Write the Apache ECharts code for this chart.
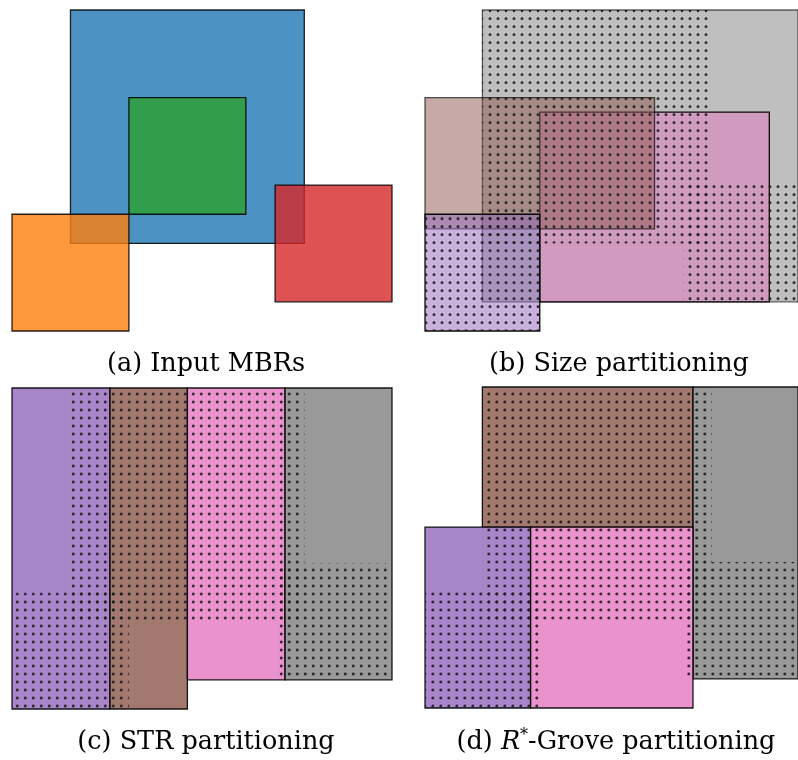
<!DOCTYPE html>
<html>
<head>
<meta charset="utf-8">
<script src="https://cdn.jsdelivr.net/npm/echarts@6/dist/echarts.min.js"></script>
<style>html,body{margin:0;padding:0;background:#fff;}#main{width:798px;height:760px;}</style>
</head>
<body>
<div id="main"></div>
<script>
// ---- Data (in data units; x 0..13, y 0..11) ----
// (a) input MBRs: blue, green, orange, red
const inputColors = ['#1f77b4', '#2ca02c', '#ff7f0e', '#d62728'];
const inputX0 = [2, 4, 0, 9];
const inputX1 = [10, 8, 4, 13];
const inputY0 = [3, 4, 0, 1];
const inputY1 = [11, 8, 4, 5];
// input MBRs whose area is shown dotted in (b)-(d): blue, orange, red
const dottedIdx = [0, 2, 3];

// (b) Size partitioning: grey, pink, brown, purple
const sizeColors = ['#7f7f7f', '#e377c2', '#8c564b', '#9467bd'];
const sizeX0 = [2, 4, 0, 0];
const sizeX1 = [13, 12, 8, 4];
const sizeY0 = [1, 1, 3.5, 0];
const sizeY1 = [11, 7.5, 8, 4];

// (c) STR partitioning: purple, brown, pink, grey
const strColors = ['#9467bd', '#8c564b', '#e377c2', '#7f7f7f'];
const strX0 = [0, 3.35, 6, 9.34];
const strX1 = [3.35, 6, 9.34, 13];
const strY0 = [0, 0, 1, 1];
const strY1 = [11, 11, 11, 11];

// (d) R*-Grove partitioning: brown, grey, purple, pink
const groveColors = ['#8c564b', '#7f7f7f', '#9467bd', '#e377c2'];
const groveX0 = [2, 9.34, 0, 3.68];
const groveX1 = [9.34, 13, 3.68, 9.34];
const groveY0 = [6.2, 1, 0, 0];
const groveY1 = [11, 11, 6.2, 6.2];

const captions = ['(a) Input MBRs', '(b) Size partitioning', '(c) STR partitioning', '(d) {it|R}{sup|*}-Grove partitioning'];

// ---- helpers ----
function hexA(hex, a) {
  const r = parseInt(hex.slice(1, 3), 16), g = parseInt(hex.slice(3, 5), 16), b = parseInt(hex.slice(5, 7), 16);
  return 'rgba(' + r + ',' + g + ',' + b + ',' + a + ')';
}
function makeTile(dx, dy) {
  const c = document.createElement('canvas');
  c.width = 8; c.height = 8;
  const ctx = c.getContext('2d');
  ctx.fillStyle = 'rgba(30,30,30,0.9)';
  for (let i = -1; i <= 1; i++) for (let j = -1; j <= 1; j++) {
    ctx.beginPath();
    ctx.arc(dx + i * 8, dy + j * 8, 1.45, 0, Math.PI * 2);
    ctx.fill();
  }
  return c;
}

const grids = [
  { left: 12, top: 10, width: 380, height: 321 },
  { left: 425, top: 10, width: 380, height: 321 },
  { left: 12, top: 388, width: 380, height: 321 },
  { left: 425, top: 387, width: 380, height: 321 }
];
const tiles = [null, makeTile(2, 2.7), makeTile(1.3, 2), makeTile(0.8, 2)];

function rectSeries(panel, x0, x1, y0, y1, colors, alpha, edge, z) {
  const data = x0.map((v, i) => [v, y0[i], x1[i], y1[i], i]);
  return {
    type: 'custom',
    xAxisIndex: panel, yAxisIndex: panel,
    z: z,
    animation: false,
    silent: true,
    clip: false,
    data: data,
    encode: { x: [0, 2], y: [1, 3] },
    renderItem: function (params, api) {
      const a = api.coord([api.value(0), api.value(3)]);
      const b = api.coord([api.value(2), api.value(1)]);
      const idx = api.value(4);
      return {
        type: 'rect',
        shape: { x: a[0], y: a[1], width: b[0] - a[0], height: b[1] - a[1] },
        style: {
          fill: hexA(colors[idx], alpha),
          stroke: Array.isArray(edge) ? edge[idx] : edge,
          lineWidth: 1.3
        }
      };
    }
  };
}

function dotSeries(panel) {
  const data = dottedIdx.map(i => [inputX0[i], inputY0[i], inputX1[i], inputY1[i]]);
  const tile = tiles[panel];
  return {
    type: 'custom',
    xAxisIndex: panel, yAxisIndex: panel,
    z: 10,
    animation: false,
    silent: true,
    clip: true,
    data: data,
    encode: { x: [0, 2], y: [1, 3] },
    renderItem: function (params, api) {
      const a = api.coord([api.value(0), api.value(3)]);
      const b = api.coord([api.value(2), api.value(1)]);
      return {
        type: 'rect',
        shape: { x: a[0], y: a[1], width: b[0] - a[0], height: b[1] - a[1] },
        style: { fill: { image: tile, repeat: 'repeat' }, stroke: null }
      };
    }
  };
}

const capFont = '"DejaVu Serif", "Liberation Serif", serif';
const capPos = [[206, 364], [619, 364], [206, 742], [616, 742]];

const option = {
  backgroundColor: '#ffffff',
  animation: false,
  grid: grids.map(g => Object.assign({ containLabel: false }, g)),
  xAxis: grids.map((g, i) => ({ type: 'value', gridIndex: i, min: 0, max: 13, show: false })),
  yAxis: grids.map((g, i) => ({ type: 'value', gridIndex: i, min: 0, max: 11, show: false })),
  series: [
    rectSeries(0, inputX0, inputX1, inputY0, inputY1, inputColors, 0.8, 'rgba(0,0,0,0.85)', 2),
    rectSeries(1, sizeX0, sizeX1, sizeY0, sizeY1, sizeColors, 0.5,
      ['rgba(0,0,0,0.6)', 'rgba(0,0,0,0.95)', 'rgba(0,0,0,0.65)', 'rgba(0,0,0,0.95)'], 2),
    dotSeries(1),
    rectSeries(2, strX0, strX1, strY0, strY1, strColors, 0.8, 'rgba(0,0,0,0.9)', 2),
    dotSeries(2),
    rectSeries(3, groveX0, groveX1, groveY0, groveY1, groveColors, 0.8, 'rgba(0,0,0,0.9)', 2),
    dotSeries(3)
  ],
  graphic: captions.map((t, i) => ({
    type: 'text',
    x: capPos[i][0], y: capPos[i][1],
    z: 100,
    style: {
      text: t,
      fill: '#000',
      fontSize: 25.5,
      fontFamily: capFont,
      align: 'center',
      verticalAlign: 'middle',
      rich: {
        it: { fontSize: 25.5, fontFamily: capFont, fontStyle: 'italic', fill: '#000' },
        sup: { fontSize: 16, fontFamily: capFont, fill: '#000', verticalAlign: 'top', padding: [0, 0, 12, 0] }
      }
    }
  }))
};

const chart = echarts.init(document.getElementById('main'), null, { renderer: 'canvas' });
chart.setOption(option);
</script>
</body>
</html>
